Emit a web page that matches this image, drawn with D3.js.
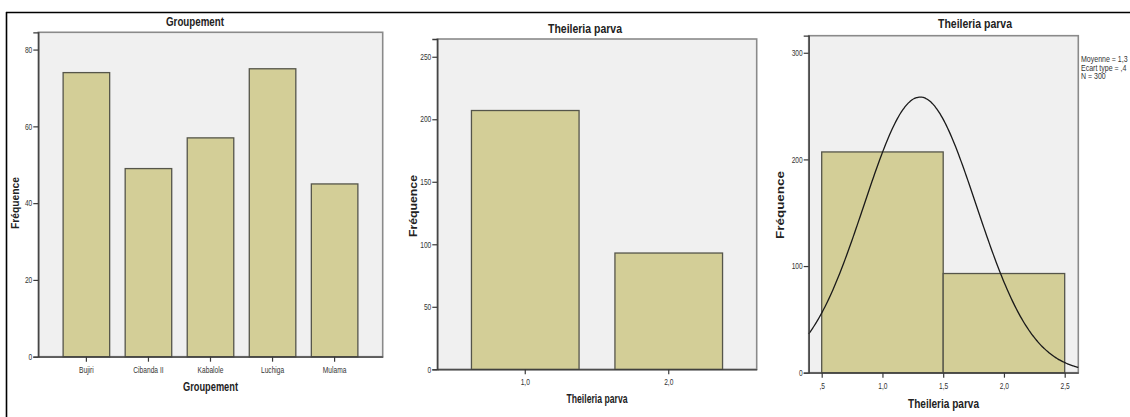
<!DOCTYPE html>
<html><head><meta charset="utf-8">
<script src="https://cdn.jsdelivr.net/npm/d3@7"></script>
<style>
html,body{margin:0;padding:0;background:#fff;}
svg{display:block;}
.nar{font-family:"Liberation Sans",Arial,sans-serif;}
</style></head>
<body><svg id="c" width="1130" height="417"></svg>
<script>
// ---- data ----
const groupCategories = ["Bujiri","Cibanda II","Kabalole","Luchiga","Mulama"];
const groupCounts = [74, 49, 57, 75, 45];
const groupYTicks = [0, 20, 40, 60, 80];

const theileriaCategories = ["1,0","2,0"];
const theileriaCounts = [207, 93];
const theileriaYTicks = [0, 50, 100, 150, 200, 250];

const histBinStarts = [0.5, 1.5];
const histBinEnds = [1.5, 2.5];
const histCounts = [207, 93];
const histXTicks = [0.5, 1.0, 1.5, 2.0, 2.5];
const histXTickLabels = [",5","1,0","1,5","2,0","2,5"];
const histYTicks = [0, 100, 200, 300];
const histMean = 1.31, histSd = 0.463, histN = 300, histBinWidth = 1;
const legendLines = ["Moyenne = 1,3","Ecart type = ,4","N = 300"];

// ---- styles ----
const BG = "#f0f0f0", BAR = "#d3ce97", BARSTROKE = "#55554a", FRAME = "#8a8a8a", AXIS = "#3a3a3a", TXT = "#222";
const svg = d3.select("#c");

function narrow(sel, f){
  sel.each(function(){
    const L = this.getComputedTextLength();
    if(L>0) d3.select(this).attr("textLength", L*f).attr("lengthAdjust","spacingAndGlyphs");
  });
}

// outer frame lines
svg.append("line").attr("x1",6).attr("x2",1130).attr("y1",12.5).attr("y2",12.5).attr("stroke","#000").attr("stroke-width",1.6);
svg.append("line").attr("x1",6.5).attr("x2",6.5).attr("y1",12).attr("y2",417).attr("stroke","#000").attr("stroke-width",1.6);

function plotFrame(x0,x1,y0,y1){
  svg.append("rect").attr("x",x0).attr("y",y0).attr("width",x1-x0).attr("height",y1-y0)
    .attr("fill",BG).attr("stroke",FRAME).attr("stroke-width",1.6);
}
function styleAxis(g, fs){
  g.select(".domain").attr("stroke",AXIS).attr("stroke-width",1.3);
  g.selectAll(".tick line").attr("stroke",AXIS).attr("stroke-width",1.2);
  const t = g.selectAll("text").attr("class","nar").attr("font-size",fs).attr("fill","#333").attr("font-family",null);
  narrow(t, 0.78);
}
function yAxis(scale, ticks, x, fs){
  const g = svg.append("g").attr("transform",`translate(${x},0)`)
    .call(d3.axisLeft(scale).tickValues(ticks).tickSize(5).tickPadding(1).tickFormat(d3.format("d")));
  styleAxis(g, fs);
  return g;
}
function xAxisG(axis, y, fs){
  const g = svg.append("g").attr("transform",`translate(0,${y})`).call(axis);
  styleAxis(g, fs);
  return g;
}
function label(txt,x,y,fs,len,rot){
  const t = svg.append("text").attr("class","nar").attr("font-weight","bold").attr("font-size",fs)
    .attr("fill",TXT).attr("text-anchor","middle").text(txt)
    .attr("textLength",len).attr("lengthAdjust","spacingAndGlyphs");
  if(rot){ t.attr("transform",`translate(${x},${y}) rotate(-90)`); }
  else t.attr("x",x).attr("y",y);
  return t;
}

// ---- Panel 1: Groupement ----
{
  const x0=38.3,x1=382.7,y0=32.3,yb=356.7;
  const y = d3.scaleLinear().domain([0,84.5]).range([yb,y0]);
  const x = d3.scaleBand().domain(groupCategories).range([x0,x1]).paddingInner(0.25).paddingOuter(0.4);
  plotFrame(x0,x1,y0,yb);
  svg.append("g").selectAll("rect").data(groupCategories).join("rect")
    .attr("x",d=>x(d)).attr("width",x.bandwidth())
    .attr("y",(d,i)=>y(groupCounts[i])).attr("height",(d,i)=>yb-y(groupCounts[i]))
    .attr("fill",BAR).attr("stroke",BARSTROKE).attr("stroke-width",1.3);
  yAxis(y, groupYTicks, x0, 8.5);
  xAxisG(d3.axisBottom(x).tickSize(5).tickPadding(5).tickSizeOuter(0), yb, 8.5);
  label("Groupement",195,26,12.5,58);
  label("Groupement",210.5,391,12,55);
  label("Fréquence",19,203,10.5,52,true);
}

// ---- Panel 2: Theileria parva bar ----
{
  const x0=437.3,x1=756.7,y0=39,yb=369.3;
  const y = d3.scaleLinear().domain([0,264.2]).range([yb,y0]);
  const x = d3.scaleBand().domain(theileriaCategories).range([x0,x1]).paddingInner(0.25).paddingOuter(0.238);
  plotFrame(x0,x1,y0,yb);
  svg.append("g").selectAll("rect").data(theileriaCategories).join("rect")
    .attr("x",d=>x(d)).attr("width",x.bandwidth())
    .attr("y",(d,i)=>y(theileriaCounts[i])).attr("height",(d,i)=>yb-y(theileriaCounts[i]))
    .attr("fill",BAR).attr("stroke",BARSTROKE).attr("stroke-width",1.3);
  yAxis(y, theileriaYTicks, x0, 8.5);
  xAxisG(d3.axisBottom(x).tickSize(5).tickPadding(5).tickSizeOuter(0), yb, 8.5);
  label("Theileria parva",585,33,12.5,74);
  label("Theileria parva",597,403,12,61);
  label("Fréquence",417,206,10.5,62,true);
}

// ---- Panel 3: histogram ----
{
  const x0=808.7,x1=1078.3,y0=35.7,yb=372.7;
  const y = d3.scaleLinear().domain([0,316]).range([yb,y0]);
  const x = d3.scaleLinear().domain([0.393,2.612]).range([x0,x1]);
  plotFrame(x0,x1,y0,yb);
  svg.append("g").selectAll("rect").data(histCounts).join("rect")
    .attr("x",(d,i)=>x(histBinStarts[i])).attr("width",(d,i)=>x(histBinEnds[i])-x(histBinStarts[i]))
    .attr("y",d=>y(d)).attr("height",d=>yb-y(d))
    .attr("fill",BAR).attr("stroke",BARSTROKE).attr("stroke-width",1.3);
  // fitted normal curve from the displayed mean / sd / N
  const xs = d3.range(0,201).map(i=>0.393 + (2.612-0.393)*i/200);
  const dens = v => histN*histBinWidth/(histSd*Math.sqrt(2*Math.PI))*Math.exp(-0.5*((v-histMean)/histSd)**2);
  svg.append("path").datum(xs)
    .attr("d", d3.line().x(v=>x(v)).y(v=>y(dens(v))).curve(d3.curveBasis))
    .attr("fill","none").attr("stroke","#1a1a1a").attr("stroke-width",1.3);
  yAxis(y, histYTicks, x0, 8.5);
  xAxisG(d3.axisBottom(x).tickValues(histXTicks).tickSize(5).tickPadding(5).tickSizeOuter(0)
    .tickFormat((d,i)=>histXTickLabels[i]), yb, 8.5);
  label("Theileria parva",975,28,13,74);
  label("Theileria parva",943.5,408,12.5,71);
  label("Fréquence",784,205,10.5,68,true);
  svg.append("g").selectAll("text").data(legendLines).join("text")
    .attr("class","nar").attr("font-size",9).attr("fill","#333")
    .attr("transform",(d,i)=>`translate(1081,${62+i*8.6}) scale(0.78,1)`).text(d=>d);
}
</script></body></html>
